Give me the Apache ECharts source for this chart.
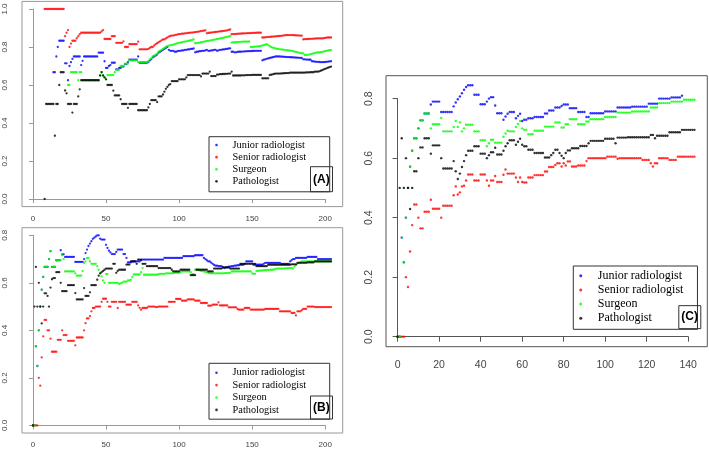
<!DOCTYPE html>
<html><head><meta charset="utf-8">
<script src="https://cdn.jsdelivr.net/npm/echarts@6/dist/echarts.min.js"></script>
<style>html,body{margin:0;padding:0;background:#fff}#c{width:709px;height:449px}</style>
</head><body><div id="c"></div>
<script>
// ---------- names / colours ----------
const seriesNames = ['Junior radiologist', 'Senior radiologist', 'Surgeon', 'Pathologist'];
const seriesColors = ['#0000ff', '#ff0000', '#00ff00', '#000000'];
const panelLabels = ['(A)', '(B)', '(C)'];

// ---------- tick labels ----------
const abXTicks = [0, 50, 100, 150, 200];
const aYTicks = [0, 0.2, 0.4, 0.6, 0.8, 1.0];
const bYTicks = [0, 0.2, 0.4, 0.6, 0.8];
const cXTicks = [0, 20, 40, 60, 80, 100, 120, 140];
const cYTicks = [0, 0.2, 0.4, 0.6, 0.8];

// ---------- panel A (values at consecutive x starting at the given start) ----------
const aJuniorStart = 14;
const aJunior = [
.667,.667,.75,.8,.833,.833,.833,.833,.714,.714,
.625,.70,.72,.737,.75,.75,.75,.75,.75,.705,
.727,.75,.75,.75,.75,.75,.75,.75,.75,.75,
.75,.77,.77,.77,.77,.725,.69,.69,.70,.705,
.717,.717,.717,.682,.682,.69,.69,.697,.697,.71,
.71,.72,.733,.733,.733,.733,.733,.733,.75,.717,
.717,.717,.717,.717,.717,.72,.73,.735,.745,.75,
.755,.76,.77,.775,.78,.785,.79,.795,.80,.785,
.78,.78,.78,.775,.775,.778,.78,.78,.782,.782,
.785,.785,.787,.787,.79,.79,.792,.772,.775,.775,
.778,.778,.78,.78,.782,.785,.78,.78,.782,.782,
.785,.785,.78,.782,.785,.785,.787,.787,.79,.79,
.792,.793,.775,.775,.772,.772,.774,.775,.775,.776,
.776,.777,.777,.778,.778,.778,.779,.779,.78,.78,
.78,.78,.78,.73,.733,.735,.738,.74,.742,.744,
.746,.748,.75,.75,.75,.75,.749,.749,.748,.748,
.747,.747,.746,.746,.745,.745,.744,.744,.743,.743,
.742,.735,.735,.734,.734,.733,.733,.725,.724,.723,
.722,.722,.721,.72,.72,.72,.721,.722,.723,.724,
.725];
const aSeniorStart = 8;
const aSenior = [
1,1,1,1,1,1,1,1,1,1,
1,1,1,1,.857,.875,.889,.8,.818,.833,
.833,.833,.846,.857,.867,.875,.875,.875,.875,.875,
.875,.875,.875,.875,.875,.875,.875,.875,.875,.882,
.889,.842,.842,.842,.842,.842,.857,.857,.857,.822,
.822,.822,.822,.822,.83,.80,.80,.80,.815,.815,
.815,.815,.815,.815,.828,.788,.788,.788,.788,.788,
.788,.79,.795,.80,.80,.808,.815,.82,.825,.83,
.835,.84,.84,.845,.85,.855,.858,.86,.86,.862,
.864,.866,.868,.868,.87,.87,.872,.872,.874,.874,
.876,.876,.877,.878,.88,.88,.882,.884,.885,.886,
.888,.872,.874,.875,.876,.877,.878,.879,.88,.881,
.882,.883,.884,.885,.886,.888,.89,.892,.867,.868,
.868,.869,.869,.87,.87,.871,.871,.872,.872,.873,
.873,.873,.874,.874,.874,.875,.875,.875,.875,.85,
.85,.851,.852,.852,.853,.854,.855,.855,.856,.857,
.857,.858,.859,.86,.861,.862,.862,.863,.863,.863,
.862,.862,.861,.861,.86,.86,.86,.84,.841,.841,
.842,.842,.843,.843,.844,.844,.845,.845,.845,.845,
.845,.846,.848,.849,.85,.85,.85];
const aSurgeonStart = 24;
const aSurgeon = [
.6,.6,.667,.667,.667,.667,.667,.625,.667,.667,
.625,.625,.625,.625,.625,.625,.625,.625,.625,.625,
.625,.625,.65,.667,.65,.64,.63,.652,.652,.652,
.652,.652,.667,.68,.68,.68,.70,.70,.70,.712,
.712,.712,.73,.73,.73,.73,.73,.73,.72,.72,
.72,.72,.72,.72,.72,.725,.735,.74,.75,.755,
.76,.765,.775,.78,.785,.79,.795,.80,.805,.807,
.81,.81,.812,.815,.818,.82,.822,.823,.825,.827,
.828,.83,.832,.833,.835,.837,.84,.82,.82,.822,
.823,.825,.826,.828,.83,.832,.832,.834,.835,.837,
.838,.84,.842,.843,.845,.847,.848,.85,.852,.853,
.855,.857,.823,.824,.825,.825,.826,.826,.827,.827,
.828,.828,.828,.828,.829,.80,.80,.80,.802,.802,
.803,.804,.805,.808,.81,.812,.815,.81,.805,.80,
.797,.795,.792,.79,.79,.788,.787,.786,.785,.784,
.783,.782,.781,.78,.778,.776,.774,.772,.77,.768,
.767,.766,.758,.758,.759,.76,.762,.764,.766,.768,
.77,.771,.772,.773,.774,.776,.778,.78,.782,.783,
.784];
const aPathologistStart = 8;
const aPathologist = [
0,.5,.5,.5,.5,.5,.5,.333,.5,.5,
.6,.667,.667,.667,.571,.556,.5,.5,.5,.455,
.5,.5,.5,.54,.577,.625,.625,.625,.625,.625,
.625,.625,.625,.625,.625,.625,.625,.625,.65,.667,
.65,.64,.63,.6,.6,.6,.6,.57,.545,.545,
.545,.545,.525,.5,.5,.5,.5,.48,.5,.5,
.5,.5,.5,.5,.467,.467,.467,.467,.467,.467,
.467,.482,.5,.52,.52,.52,.52,.51,.54,.54,
.54,.55,.565,.58,.59,.6,.605,.62,.62,.62,
.62,.62,.63,.63,.63,.63,.63,.64,.652,.652,
.652,.652,.652,.652,.652,.652,.652,.645,.66,.66,
.66,.66,.66,.67,.647,.647,.647,.647,.655,.655,
.657,.657,.658,.658,.659,.659,.66,.66,.67,.65,
.65,.65,.65,.65,.65,.651,.651,.651,.652,.652,
.652,.652,.653,.653,.653,.653,.653,.653,.653,.635,
.635,.635,.635,.635,.652,.654,.656,.658,.66,.66,
.66,.66,.661,.661,.662,.662,.663,.663,.665,.665,
.665,.665,.665,.665,.665,.665,.665,.665,.665,.666,
.666,.666,.667,.667,.667,.67,.67,.67,.672,.675,
.678,.682,.685,.688,.691,.694,.697];

// ---------- panel B ----------
const bStart = 0;
const bJunior = [
0,0,.333,.25,.4,.5,.571,.625,.667,.667,
.667,.70,.733,.667,.667,.667,.695,.695,.695,.737,
.72,.72,.709,.709,.709,.709,.709,.709,.709,.688,
.688,.688,.688,.688,.688,.70,.725,.74,.755,.765,
.775,.785,.79,.795,.80,.80,.786,.782,.782,.782,
.76,.747,.735,.728,.721,.721,.721,.73,.74,.74,
.74,.74,.721,.721,.705,.686,.686,.686,.69,.69,
.69,.69,.69,.69,.695,.698,.698,.698,.698,.698,
.698,.698,.698,.698,.698,.698,.698,.698,.698,.698,
.705,.705,.705,.705,.705,.705,.705,.705,.705,.705,
.705,.705,.705,.712,.712,.712,.712,.712,.712,.712,
.712,.716,.716,.716,.716,.716,.716,.705,.70,.695,
.69,.69,.685,.68,.675,.672,.672,.67,.67,.67,
.665,.662,.665,.665,.668,.668,.67,.67,.672,.672,
.674,.674,.676,.676,.676,.68,.69,.69,.69,.69,
.69,.676,.676,.676,.676,.676,.676,.676,.68,.684,
.684,.684,.684,.684,.684,.684,.684,.684,.684,.684,
.68,.68,.68,.68,.68,.68,.69,.695,.70,.70,
.705,.705,.705,.705,.705,.705,.705,.705,.709,.709,
.709,.709,.709,.709,.709,.70,.70,.70,.70,.70,
.70,.70,.70,.70,.70];
const bSenior = [
0,0,0,0,.2,.167,.286,.375,.444,.444,
.4,.4,.365,.31,.31,.31,.31,.36,.36,.36,
.4,.38,.38,.38,.356,.356,.356,.356,.356,.337,
.37,.37,.37,.37,.37,.4,.43,.45,.45,.46,
.48,.494,.494,.5,.5,.5,.5,.52,.533,.533,
.533,.52,.5,.5,.52,.52,.52,.52,.494,.52,
.52,.52,.52,.52,.508,.508,.508,.508,.52,.52,
.52,.52,.505,.495,.487,.494,.494,.494,.494,.50,
.50,.50,.50,.50,.498,.498,.50,.50,.50,.50,
.50,.50,.50,.52,.52,.52,.52,.52,.532,.532,
.532,.532,.525,.525,.525,.525,.53,.53,.53,.53,
.53,.525,.525,.525,.525,.515,.515,.515,.515,.515,
.504,.504,.504,.508,.508,.508,.508,.518,.505,.505,
.505,.505,.505,.505,.497,.497,.497,.497,.497,.497,
.49,.487,.487,.487,.487,.494,.494,.494,.494,.487,
.487,.487,.487,.487,.487,.487,.487,.487,.487,.49,
.49,.49,.49,.49,.49,.49,.49,.49,.49,.48,
.48,.48,.48,.48,.48,.48,.48,.473,.473,.473,
.463,.48,.48,.48,.485,.49,.49,.49,.50,.50,
.50,.50,.50,.498,.498,.498,.498,.498,.498,.498,
.498,.498,.498,.498,.498];
const bSurgeon = [
0,0,.333,.25,.4,.5,.571,.625,.667,.667,
.667,.70,.733,.667,.667,.667,.695,.695,.695,.695,
.716,.70,.648,.648,.648,.648,.648,.648,.648,.64,
.63,.63,.63,.63,.65,.683,.69,.705,.705,.69,
.68,.68,.68,.68,.67,.655,.64,.627,.61,.60,
.637,.637,.60,.60,.60,.60,.60,.60,.60,.595,
.598,.60,.605,.605,.605,.61,.61,.613,.625,.635,
.635,.635,.635,.635,.645,.662,.634,.634,.634,.634,
.634,.634,.634,.634,.634,.634,.636,.638,.638,.638,
.638,.64,.64,.64,.64,.64,.64,.642,.642,.642,
.642,.645,.648,.648,.648,.648,.648,.648,.645,.637,
.637,.655,.655,.655,.652,.65,.65,.648,.646,.645,
.642,.64,.64,.64,.64,.64,.64,.64,.64,.64,
.64,.641,.641,.641,.641,.642,.648,.648,.648,.648,
.648,.648,.648,.648,.648,.648,.648,.648,.648,.648,
.64,.638,.638,.65,.65,.651,.651,.652,.652,.653,
.653,.654,.654,.655,.655,.656,.658,.66,.66,.66,
.66,.66,.66,.661,.661,.662,.662,.663,.66,.668,
.675,.68,.684,.687,.69,.69,.69,.69,.69,.69,
.69,.69,.69,.69,.69,.69,.69,.69,.69,.69,
.69,.69,.69,.69,.69];
const bPathologist = [
0,.5,.667,.5,.6,.5,.429,.5,.556,.556,
.545,.5,.58,.615,.62,.62,.645,.645,.645,.60,
.565,.565,.565,.565,.59,.59,.59,.59,.59,.557,
.53,.53,.53,.53,.53,.578,.545,.545,.545,.56,
.59,.59,.59,.59,.613,.63,.64,.645,.65,.655,
.66,.66,.66,.66,.66,.68,.68,.642,.65,.655,
.655,.655,.655,.655,.677,.677,.677,.69,.69,.69,
.69,.68,.698,.698,.698,.68,.68,.68,.67,.67,
.67,.67,.67,.67,.67,.67,.662,.662,.662,.662,
.662,.662,.662,.662,.662,.655,.648,.648,.648,.648,
.648,.655,.655,.655,.655,.655,.655,.655,.632,.632,
.632,.632,.655,.655,.655,.655,.655,.655,.655,.655,
.648,.648,.648,.648,.66,.66,.66,.66,.66,.66,
.665,.665,.665,.665,.665,.66,.66,.66,.66,.66,
.66,.66,.68,.68,.68,.68,.68,.68,.68,.68,
.68,.68,.68,.67,.67,.67,.67,.67,.67,.67,
.67,.676,.676,.676,.676,.676,.676,.676,.676,.676,
.676,.676,.676,.676,.676,.676,.676,.678,.678,.678,
.678,.684,.684,.684,.684,.684,.684,.684,.686,.686,
.686,.686,.686,.69,.69,.69,.69,.69,.69,.69,
.69,.69,.69,.69,.69];

// ---------- panel C ----------
const cStart = 0;
const cJunior = [
0,0,.333,.25,.4,.5,.571,.625,.667,.667,
.7,.727,.727,.75,.75,.75,.78,.79,.79,.79,
.79,.755,.755,.755,.755,.755,.755,.774,.787,.798,
.807,.818,.83,.839,.845,.845,.845,.813,.813,.813,
.781,.781,.781,.79,.80,.805,.805,.777,.751,.751,
.751,.729,.74,.749,.755,.755,.755,.734,.742,.749,
.725,.729,.729,.734,.734,.734,.738,.738,.738,.738,
.738,.75,.75,.76,.76,.76,.77,.77,.77,.775,
.78,.78,.78,.768,.768,.768,.768,.755,.755,.755,
.755,.738,.738,.751,.751,.751,.751,.751,.751,.751,
.757,.757,.757,.757,.757,.757,.77,.77,.77,.77,
.77,.77,.77,.773,.773,.773,.773,.773,.773,.773,
.773,.783,.783,.783,.783,.783,.8,.8,.8,.8,
.8,.8,.804,.804,.804,.804,.804,.81];
const cSenior = [
0,0,0,0,.2,.167,.286,.375,.444,.444,
.4,.364,.364,.42,.42,.42,.46,.43,.43,.43,
.43,.4,.44,.44,.44,.44,.44,.475,.505,.478,
.485,.505,.507,.525,.545,.545,.545,.525,.525,.525,
.545,.545,.545,.525,.507,.525,.525,.54,.52,.52,
.52,.544,.562,.548,.548,.548,.548,.535,.52,.535,
.52,.518,.518,.535,.535,.535,.543,.543,.543,.543,
.543,.555,.555,.57,.57,.57,.577,.583,.583,.572,
.583,.575,.589,.589,.572,.572,.572,.575,.575,.575,
.575,.59,.6,.6,.6,.6,.6,.6,.6,.6,
.6,.605,.605,.605,.605,.605,.598,.6,.6,.6,
.6,.6,.6,.6,.6,.6,.6,.6,.594,.594,
.594,.594,.583,.572,.583,.583,.6,.6,.6,.6,
.6,.594,.594,.594,.594,.605,.605,.605,.605,.605,
.605,.605,.605,.605];
const cSurgeon = [
0,0,.333,.25,.4,.5,.571,.625,.667,.667,
.7,.727,.727,.75,.75,.75,.7,.714,.714,.714,
.714,.735,.69,.69,.69,.69,.69,.705,.725,.705,
.72,.69,.70,.712,.712,.712,.712,.69,.69,.69,
.66,.66,.66,.64,.65,.662,.662,.652,.652,.652,
.652,.672,.683,.692,.69,.69,.69,.705,.715,.725,
.70,.695,.695,.68,.68,.68,.692,.692,.692,.692,
.692,.706,.706,.706,.706,.706,.72,.72,.72,.703,
.703,.714,.714,.731,.731,.731,.731,.714,.714,.714,
.714,.723,.723,.731,.731,.731,.731,.731,.731,.731,
.738,.738,.738,.738,.738,.738,.753,.753,.753,.753,
.753,.753,.753,.757,.757,.757,.757,.757,.757,.757,
.757,.757,.77,.77,.77,.77,.785,.785,.785,.785,
.785,.785,.79,.79,.79,.79,.79,.79,.796,.796,
.796,.796,.796,.796];
const cPathologist = [
0,.5,.667,.5,.6,.5,.429,.5,.556,.556,
.6,.636,.636,.667,.667,.667,.615,.643,.643,.643,
.643,.6,.565,.565,.565,.565,.565,.59,.556,.53,
.548,.57,.59,.61,.625,.625,.625,.64,.64,.64,
.615,.615,.615,.6,.61,.62,.62,.635,.612,.612,
.612,.625,.64,.65,.66,.66,.66,.645,.655,.665,
.645,.64,.64,.628,.628,.628,.617,.617,.617,.617,
.617,.602,.602,.602,.61,.617,.628,.628,.617,.608,
.6,.617,.626,.626,.633,.633,.633,.633,.641,.641,
.641,.641,.65,.658,.658,.658,.658,.658,.658,.658,
.665,.665,.665,.665,.665,.65,.669,.669,.669,.669,
.669,.67,.67,.67,.67,.67,.67,.67,.67,.67,
.67,.67,.678,.678,.667,.675,.675,.675,.675,.675,
.675,.687,.687,.687,.687,.687,.687,.695,.695,.695,
.695,.695,.695,.695];

// ---------- build ----------
const pts = (start, vals) => vals.map((v, i) => [start + i, v]);
const panels = [
  { starts: [aJuniorStart, aSeniorStart, aSurgeonStart, aPathologistStart], vals: [aJunior, aSenior, aSurgeon, aPathologist], size: 2.3 },
  { starts: [bStart, bStart, bStart, bStart], vals: [bJunior, bSenior, bSurgeon, bPathologist], size: 2.3 },
  { starts: [cStart, cStart, cStart, cStart], vals: [cJunior, cSenior, cSurgeon, cPathologist], size: 2.4 }
];

const fmt1 = v => v.toFixed(1);
const sans = 'Liberation Sans';

const grid = [
  { left: 22, top: 1.4, width: 320.7, height: 205.2, show: true, borderColor: '#999', borderWidth: 1, backgroundColor: 'transparent' },
  { left: 32.96, top: 9, width: 292.2, height: 190, show: false },
  { left: 22, top: 227.7, width: 320.7, height: 205.3, show: true, borderColor: '#999', borderWidth: 1, backgroundColor: 'transparent' },
  { left: 32.96, top: 235.3, width: 292.2, height: 190.1, show: false },
  { left: 386, top: 75.7, width: 321.3, height: 271, show: true, borderColor: '#555', borderWidth: 1, backgroundColor: 'transparent' },
  { left: 397.6, top: 98.6, width: 290.6, height: 238.1, show: false }
];

function hiddenX(gi, min, max) { return { type: 'value', gridIndex: gi, min, max, show: false }; }
function hiddenY(gi, min, max) { return { type: 'value', gridIndex: gi, min, max, show: false }; }
function tickX(gi, ticks, offset, color, fs, margin, tl) {
  return { type: 'value', gridIndex: gi, min: ticks[0], max: ticks[ticks.length - 1], interval: ticks[1] - ticks[0],
    position: 'bottom', offset, splitLine: { show: false },
    axisLine: { show: true, lineStyle: { color, width: 1 } },
    axisTick: { show: true, length: tl, lineStyle: { color } },
    axisLabel: { show: true, margin, color: '#444', fontFamily: sans, fontSize: fs } };
}
function tickY(gi, ticks, offset, color, fs, margin, tl) {
  return { type: 'value', gridIndex: gi, min: ticks[0], max: ticks[ticks.length - 1], interval: ticks[1] - ticks[0],
    position: 'left', offset, splitLine: { show: false },
    axisLine: { show: true, lineStyle: { color, width: 1 } },
    axisTick: { show: true, length: tl, lineStyle: { color } },
    axisLabel: { show: true, margin, rotate: 90, color: '#444', fontFamily: sans, fontSize: fs, formatter: fmt1 } };
}

const xAxis = [
  hiddenX(0, -7.5, 212), tickX(1, abXTicks, 7.6, '#999', 8, 8, 4),
  hiddenX(2, -7.5, 212), tickX(3, abXTicks, 7.6, '#999', 8, 8, 4),
  hiddenX(4, -5.6, 149.2), tickX(5, cXTicks, 10, '#555', 10.5, 13, 5)
];
const yAxis = [
  hiddenY(0, -0.04, 1.04), tickY(1, aYTicks, 10.96, '#999', 8, 13, 4),
  hiddenY(2, -0.032, 0.832), tickY(3, bYTicks, 10.96, '#999', 8, 13, 4),
  hiddenY(4, -0.0337, 0.877), tickY(5, cYTicks, 11.6, '#555', 10.5, 11.4, 5)
];

const series = [];
panels.forEach((p, pi) => {
  seriesNames.forEach((name, si) => {
    series.push({ type: 'scatter', name, xAxisIndex: pi * 2, yAxisIndex: pi * 2, symbol: 'circle', symbolSize: p.size,
      itemStyle: { color: seriesColors[si] }, silent: true, z: 2 + si,
      data: pts(p.starts[si], p.vals[si]) });
  });
});

function legendAt(left, top, fontSize, lineH, pad, textPad, size) {
  return { show: true, orient: 'vertical', left, top, data: seriesNames, icon: 'circle', itemWidth: size, itemHeight: size,
    itemGap: 0, padding: pad, borderColor: '#333', borderWidth: 1, backgroundColor: '#fff', selectedMode: false, z: 10,
    textStyle: { fontFamily: 'Liberation Serif', fontSize, lineHeight: lineH, color: '#000', padding: [0, 0, 0, textPad] } };
}
const legend = [
  legendAt(209, 136.7, 10.3, 12.1, [2.3, 23.6, 4.4, 6.2], 9.8, 2.6),
  legendAt(209, 363.3, 10.3, 12.4, [3.2, 23.6, 3.1, 6.2], 9.8, 2.6),
  legendAt(573.3, 266, 12, 14.2, [2.6, 14, 3.9, 5.95], 10.55, 3)
];
function tagAt(text, left, top, h) {
  const pv = (h - 12) / 2;
  return { text, left, top, padding: [pv, 3, pv, 3], borderColor: '#333', borderWidth: 1, z: 11,
    textStyle: { fontFamily: sans, fontSize: 12, fontWeight: 'bold', color: '#000', lineHeight: 12 } };
}
const title = [
  tagAt(panelLabels[0], 310, 166.7, 25),
  tagAt(panelLabels[1], 310, 395.7, 23.6),
  tagAt(panelLabels[2], 678.3, 305, 24.3)
];

const chart = echarts.init(document.getElementById('c'), null, { renderer: 'canvas' });
chart.setOption({ animation: false, backgroundColor: '#fff', grid, xAxis, yAxis, series, legend, title });
</script>
</body></html>
